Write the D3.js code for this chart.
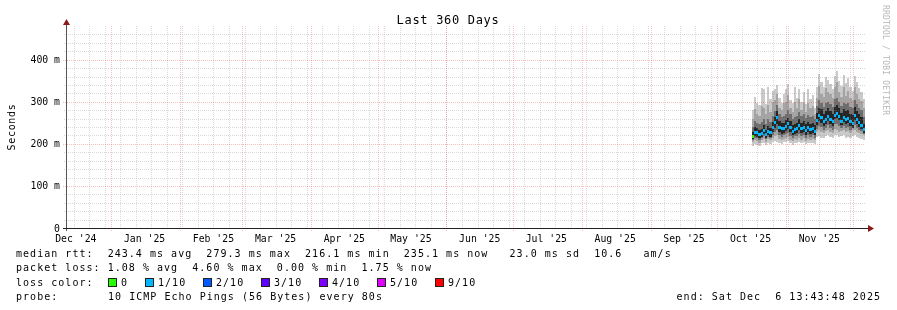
<!DOCTYPE html>
<html>
<head>
<meta charset="utf-8">
<script src="https://cdn.jsdelivr.net/npm/d3@7/dist/d3.min.js"></script>
<style>
body{margin:0;background:#fff}
svg text{font-family:"DejaVu Sans Mono",monospace;fill:#000}
</style>
</head>
<body>
<svg width="897" height="310"></svg>
<script>
// range of the graph
var startTime = new Date(2024, 11, 11, 13, 43, 48);
var endTime = new Date(2025, 11, 6, 13, 43, 48);
var firstDay = new Date(2025, 9, 16, 12, 0, 0);

// daily rtt values (ms), sorted pings folded into bands
var pMin = [196,200,198,194,201,203,197,202,199,204,206,205,202,200,204,205,206,201,198,203,202,205,201,204,199,202,201,203,200,
            216,219,215,214,218,221,216,214,222,220,216,218,220,215,217,214,219,221,216,214,211,209];
var pLo2 = [204,209,207,203,209,212,205,211,208,213,218,220,211,209,212,214,217,210,206,211,210,215,209,213,207,211,209,212,208,
            228,232,228,226,230,234,228,226,236,234,229,231,232,228,230,226,232,234,229,226,223,220];
var pLo3 = [209,215,213,210,214,218,211,216,213,221,228,234,220,217,220,223,226,219,214,218,219,224,218,222,215,220,217,220,215,
            236,243,240,234,238,244,238,234,246,248,242,238,242,238,240,234,238,244,238,234,230,224];
var pLo4 = [211,219,217,213,216,223,213,221,217,228,237,246,228,224,226,231,236,228,220,224,226,232,226,229,222,227,224,226,221,
            244,254,250,242,248,254,248,242,258,262,256,244,252,248,250,242,238,256,248,240,236,226];
var median = [217,228,226,222,224,232,221,230,226,238,250,262,240,236,236,242,248,240,230,234,236,244,236,240,232,238,234,236,230,
              256,268,262,252,258,264,258,252,268,272,266,254,262,258,260,252,248,268,258,250,244,235];
var pHi4 = [228,240,238,234,236,244,234,242,238,252,264,278,254,250,250,256,262,254,244,248,250,258,250,254,246,252,248,250,244,
            274,286,282,272,278,284,278,272,288,292,286,274,282,278,280,272,268,288,278,270,264,248];
var pHi3 = [240,254,250,246,252,258,248,258,252,266,278,292,270,264,266,272,280,270,260,264,266,276,266,270,262,268,264,266,258,
            290,304,296,288,296,300,294,288,306,308,300,290,298,294,296,288,284,304,294,286,280,264];
var pHi2 = [258,282,270,266,290,284,270,292,276,300,304,318,284,280,296,300,316,284,276,300,284,306,280,298,276,296,284,290,270,
            310,338,318,312,332,322,318,308,334,346,322,312,334,314,326,310,304,334,318,306,302,286];
var pMax = [280,312,296,292,332,330,294,334,306,326,330,340,308,296,318,330,342,304,298,336,310,330,300,324,294,330,306,316,286,
            334,366,346,336,360,352,342,330,362,372,350,338,364,344,356,334,326,362,346,332,324,306];
// lost pings out of 10 per day
var loss = [0,1,1,1,1,1,1,1,1,1,1,1,1,1,1,1,1,1,1,1,1,1,1,1,1,1,1,1,1,
            1,1,1,1,1,1,1,1,1,1,1,1,1,1,1,1,1,1,1,1,1,1];

var yTickMs = [0,100,200,300,400];
var yTickLabels = ["0","100 m","200 m","300 m","400 m"];

var lossLabels = ["0","1/10","2/10","3/10","4/10","5/10","9/10"];
var lossSteps = [0,1,2,3,4,5,9];
var lossColors = ["#26ff00","#00b8ff","#0059ff","#5e00ff","#7e00ff","#dd00ff","#ff0000"];

var legendLines = [
    "median rtt:  243.4 ms avg  279.3 ms max  216.1 ms min  235.1 ms now   23.0 ms sd  10.6   am/s",
    "packet loss: 1.08 % avg  4.60 % max  0.00 % min  1.75 % now"
];

var svg = d3.select("svg");
var pLeft = 66, pRight = 865, pTop = 26, pBottom = 228;

var x = d3.scaleTime().domain([startTime, endTime]).range([pLeft, pRight]);
var y = d3.scaleLinear().domain([0, 0.48]).range([pBottom, pTop]);

function keepSpaces(s) { return s.replace(/ /g, "\u00a0"); }

var days = median.map(function(d, i) {
    var t0 = d3.timeDay.offset(firstDay, i),
        t1 = d3.timeDay.offset(firstDay, i + 1);
    if (t1 > endTime) t1 = endTime;
    return {t0: t0, t1: t1, i: i};
});

// smoke bands, outermost first
var bands = [
    {lo: pMin, hi: pMax, color: "#cacaca"},
    {lo: pLo2, hi: pHi2, color: "#a4a4a4"},
    {lo: pLo3, hi: pHi3, color: "#6e6e6e"},
    {lo: pLo4, hi: pHi4, color: "#262626"}
];

var plot = svg.append("g").attr("shape-rendering", "crispEdges");
bands.forEach(function(b) {
    plot.append("g").selectAll("rect")
        .data(days)
        .enter().append("rect")
        .attr("x", function(d) { return x(d.t0); })
        .attr("width", function(d) { return x(d.t1) - x(d.t0); })
        .attr("y", function(d) { return y(b.hi[d.i] / 1000); })
        .attr("height", function(d) { return y(b.lo[d.i] / 1000) - y(b.hi[d.i] / 1000); })
        .attr("fill", b.color);
});

function lossColor(n) {
    for (var k = lossSteps.length - 1; k >= 0; k--) {
        if (n >= lossSteps[k]) return lossColors[k];
    }
    return lossColors[0];
}

plot.append("g").selectAll("rect")
    .data(days)
    .enter().append("rect")
    .attr("x", function(d) { return x(d.t0); })
    .attr("width", function(d) { return x(d.t1) - x(d.t0); })
    .attr("y", function(d) { return y(median[d.i] / 1000) - 1.5; })
    .attr("height", 3)
    .attr("fill", function(d) { return lossColor(loss[d.i]); });

// grid
var grid = svg.append("g").attr("shape-rendering", "crispEdges");
var minorY = d3.range(20, 480, 20).filter(function(v) { return v % 100 != 0; });
var majorY = yTickMs.filter(function(v) { return v > 0; });
var minorCol = "rgba(140,140,140,0.32)", majorCol = "rgba(230,60,60,0.32)";

grid.selectAll(".hminor")
    .data(minorY)
    .enter().append("line")
    .attr("x1", pLeft - 2).attr("x2", pRight)
    .attr("y1", function(d) { return Math.round(y(d / 1000)) + 0.5; })
    .attr("y2", function(d) { return Math.round(y(d / 1000)) + 0.5; })
    .attr("stroke", minorCol)
    .attr("stroke-dasharray", "1,1");

grid.selectAll(".vminor")
    .data(d3.timeSunday.range(startTime, endTime))
    .enter().append("line")
    .attr("x1", function(d) { return Math.round(x(d)) + 0.5; })
    .attr("x2", function(d) { return Math.round(x(d)) + 0.5; })
    .attr("y1", pTop).attr("y2", pBottom + 2)
    .attr("stroke", minorCol)
    .attr("stroke-dasharray", "1,1");

grid.selectAll(".hmajor")
    .data(majorY)
    .enter().append("line")
    .attr("x1", pLeft - 3).attr("x2", pRight)
    .attr("y1", function(d) { return Math.round(y(d / 1000)) + 0.5; })
    .attr("y2", function(d) { return Math.round(y(d / 1000)) + 0.5; })
    .attr("stroke", majorCol)
    .attr("stroke-dasharray", "1,1");

grid.selectAll(".vmajor")
    .data(d3.timeMonth.range(startTime, endTime))
    .enter().append("line")
    .attr("x1", function(d) { return Math.round(x(d)) + 0.5; })
    .attr("x2", function(d) { return Math.round(x(d)) + 0.5; })
    .attr("y1", pTop).attr("y2", pBottom + 3)
    .attr("stroke", majorCol)
    .attr("stroke-dasharray", "1,1");

// axes
var axis = svg.append("g").attr("shape-rendering", "crispEdges");
axis.append("line")
    .attr("x1", pLeft + 0.5).attr("x2", pLeft + 0.5)
    .attr("y1", pBottom + 3).attr("y2", pTop - 2)
    .attr("stroke", "#555");
axis.append("line")
    .attr("x1", pLeft - 3).attr("x2", pRight + 4)
    .attr("y1", pBottom + 0.5).attr("y2", pBottom + 0.5)
    .attr("stroke", "#222");
svg.append("path")
    .attr("d", "M" + (pLeft + 0.5) + "," + (pTop - 7) + "l-3.5,6h7z")
    .attr("fill", "#8b1a1a");
svg.append("path")
    .attr("d", "M" + (pRight + 9) + "," + (pBottom + 0.5) + "l-6,-3.5v7z")
    .attr("fill", "#8b1a1a");

var texts = svg.append("g").style("opacity", 0.999);

texts.append("g").selectAll("text")
    .data(yTickMs)
    .enter().append("text")
    .attr("x", 60)
    .attr("y", function(d) { return y(d / 1000) + 3.5; })
    .attr("text-anchor", "end")
    .style("font-size", "9.8px")
    .text(function(d, i) { return keepSpaces(yTickLabels[i]); });

var monthLabels = d3.timeMonth.range(d3.timeMonth.floor(startTime), endTime)
    .filter(function(d) { return x(d3.timeDay.offset(d, 15)) < pRight; });

texts.append("g").selectAll("text")
    .data(monthLabels)
    .enter().append("text")
    .attr("x", function(d) { return x(d3.timeDay.offset(d, 15)); })
    .attr("y", 242)
    .attr("text-anchor", "middle")
    .style("font-size", "9.8px")
    .text(function(d) { return keepSpaces(d3.timeFormat("%b '%y")(d)); });

// titles
texts.append("text")
    .attr("x", 448).attr("y", 24)
    .attr("text-anchor", "middle")
    .style("font-size", "12px")
    .style("letter-spacing", "0.68px")
    .text(keepSpaces("Last 360 Days"));

texts.append("text")
    .attr("transform", "translate(15,127) rotate(-90)")
    .attr("text-anchor", "middle")
    .style("font-size", "10px")
    .style("letter-spacing", "0.7px")
    .text("Seconds");

texts.append("text")
    .attr("transform", "translate(883,5) rotate(90)")
    .style("font-size", "8px")
    .style("letter-spacing", "0.2px")
    .style("fill", "#b8b8b8")
    .text(keepSpaces("RRDTOOL / TOBI OETIKER"));

// legend
var legend = texts.append("g")
    .style("font-size", "10px")
    .style("letter-spacing", "1.03px");

legend.selectAll(".row")
    .data(legendLines)
    .enter().append("text")
    .attr("x", 16)
    .attr("y", function(d, i) { return 257 + i * 14.3; })
    .text(function(d) { return keepSpaces(d); });

legend.append("text").attr("x", 16).attr("y", 285.6).text(keepSpaces("loss color:"));
var bx = 108;
lossLabels.forEach(function(lab, i) {
    legend.append("rect")
        .attr("x", bx + 0.5).attr("y", 278.5)
        .attr("width", 8).attr("height", 8)
        .attr("fill", lossColors[i])
        .attr("stroke", "#222")
        .attr("shape-rendering", "crispEdges");
    legend.append("text").attr("x", bx + 13).attr("y", 285.6).text(lab);
    bx = bx + 13 + lab.length * 7 + 17;
});

legend.append("text").attr("x", 16).attr("y", 300).text("probe:");
legend.append("text").attr("x", 108).attr("y", 300).text(keepSpaces("10 ICMP Echo Pings (56 Bytes) every 80s"));
legend.append("text").attr("x", 881).attr("y", 300)
    .attr("text-anchor", "end")
    .text(keepSpaces("end: Sat Dec  6 13:43:48 2025"));
</script>
</body>
</html>
